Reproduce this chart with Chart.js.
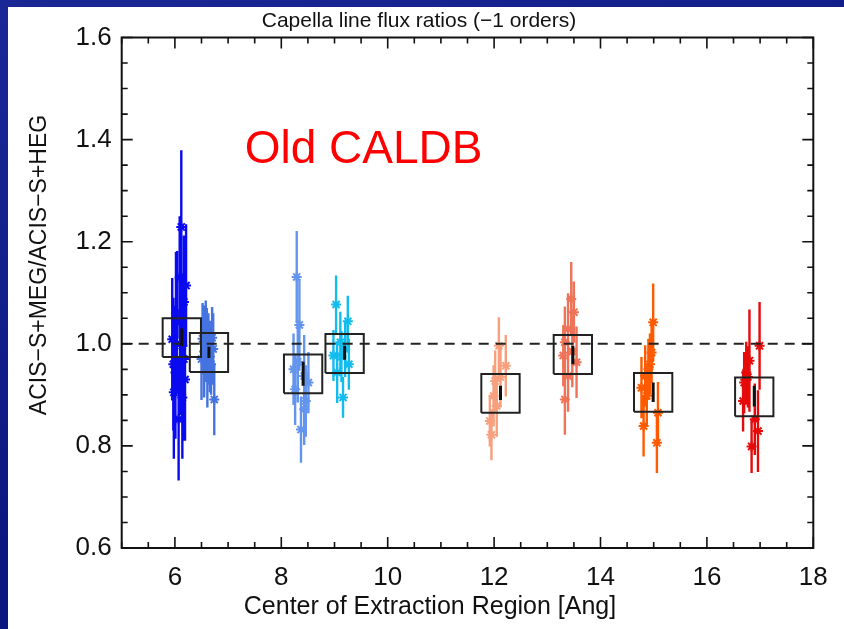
<!DOCTYPE html>
<html><head><meta charset="utf-8">
<script src="https://cdn.jsdelivr.net/npm/chart.js@4"></script>
<style>
html,body{margin:0;padding:0;}
body{width:844px;height:629px;background:linear-gradient(160deg,#1a2896 0%,#0c1680 60%,#0a1378 100%);overflow:hidden;position:relative;}
#paper{position:absolute;left:8px;top:7px;right:0;bottom:0;background:#fff;}
#wrap{position:absolute;left:0;top:0;width:844px;height:629px;}
</style></head><body>
<div id="paper"></div>
<div id="wrap"><canvas id="c" width="844" height="629"></canvas></div>
<script>
// ---- data ----
const xTickLabels = [6, 8, 10, 12, 14, 16, 18];
const yTickLabels = [0.6, 0.8, 1.0, 1.2, 1.4, 1.6];

const colors = ['#0a0af0', '#4573e0', '#6495ed', '#12bcee', '#f8a07e', '#ee7358', '#ff5a00', '#e60a0a'];

const x1 = [6.12, 6.21, 6.17, 6.04, 5.95, 6.14, 6.17, 6.01, 6.14, 6.07, 5.98, 6.10, 6.02, 5.97, 6.19, 6.09];
const y1 = [1.229, 1.114, 1.082, 1.042, 1.009, 0.996, 0.970, 0.944, 0.895, 0.852, 0.905, 1.000, 1.060, 0.960, 0.930, 1.130];
const e1 = [0.15, 0.12, 0.13, 0.14, 0.12, 0.14, 0.16, 0.13, 0.12, 0.12, 0.13, 0.14, 0.12, 0.13, 0.12, 0.12];

const x2 = [6.52, 6.58, 6.63, 6.70, 6.55, 6.66, 6.61, 6.74, 6.68, 6.60, 6.72, 6.50];
const y2 = [1.010, 1.005, 0.990, 1.012, 0.985, 0.975, 0.955, 0.891, 0.960, 1.000, 0.990, 0.970];
const e2 = [0.07, 0.08, 0.07, 0.06, 0.09, 0.07, 0.08, 0.07, 0.06, 0.07, 0.07, 0.08];

const x3 = [8.29, 8.34, 8.23, 8.43, 8.51, 8.26, 8.46, 8.43, 8.37, 8.31];
const y3 = [1.131, 1.037, 0.950, 0.937, 0.924, 0.911, 0.888, 0.872, 0.832, 0.965];
const e3 = [0.09, 0.09, 0.07, 0.08, 0.06, 0.07, 0.07, 0.07, 0.065, 0.08];

const x4 = [9.03, 9.25, 9.11, 9.20, 8.98, 9.27, 9.05, 9.16, 9.13];
const y4 = [1.077, 1.044, 1.003, 0.990, 0.977, 0.960, 0.944, 0.895, 0.975];
const e4 = [0.057, 0.05, 0.06, 0.055, 0.05, 0.05, 0.06, 0.04, 0.05];

const x5 = [12.09, 12.22, 12.02, 11.99, 12.05, 11.92, 11.95, 12.12];
const y5 = [0.996, 0.957, 0.927, 0.898, 0.878, 0.849, 0.822, 0.935];
const e5 = [0.056, 0.06, 0.06, 0.06, 0.06, 0.05, 0.05, 0.06];

const x6 = [13.45, 13.50, 13.39, 13.33, 13.30, 13.55, 13.39, 13.33, 13.47];
const y6 = [1.088, 1.062, 1.029, 1.003, 0.977, 0.964, 0.937, 0.891, 0.985];
const e6 = [0.072, 0.06, 0.07, 0.07, 0.06, 0.07, 0.07, 0.069, 0.07];

const x7 = [14.99, 14.96, 14.93, 14.84, 14.77, 14.87, 15.08, 14.81, 15.06, 14.90];
const y7 = [1.042, 0.983, 0.960, 0.937, 0.914, 0.898, 0.865, 0.839, 0.806, 0.950];
const e7 = [0.076, 0.06, 0.06, 0.06, 0.06, 0.06, 0.06, 0.06, 0.059, 0.06];

const x8 = [16.99, 16.80, 16.74, 16.70, 16.68, 16.90, 16.96, 16.84, 16.77];
const y8 = [0.996, 0.967, 0.944, 0.924, 0.888, 0.852, 0.829, 0.799, 0.935];
const e8 = [0.086, 0.10, 0.06, 0.06, 0.06, 0.07, 0.08, 0.052, 0.06];

// cluster means (boxes) and the error on the mean (black marks)
const boxX = [6.13, 6.64, 8.41, 9.19, 12.12, 13.48, 14.99, 16.89];
const boxY = [1.012, 0.983, 0.941, 0.981, 0.903, 0.979, 0.905, 0.896];
const markLo = [0.995, 0.972, 0.918, 0.969, 0.890, 0.960, 0.886, 0.877];
const markHi = [1.030, 0.994, 0.965, 0.996, 0.918, 0.996, 0.924, 0.918];

const refLevel = 1.0;
const xRange = [5, 18];
const yRange = [0.6, 1.6];

// ---- build datasets ----
const clusters = [[x1,y1,e1],[x2,y2,e2],[x3,y3,e3],[x4,y4,e4],[x5,y5,e5],[x6,y6,e6],[x7,y7,e7],[x8,y8,e8]];
const BOX_HW = 0.36, BOX_HH = 0.038;
const datasets = [];

const markData = [];
boxX.forEach((bx, i) => { markData.push({x: bx, y: markLo[i]}, {x: bx, y: markHi[i]}, {x: bx, y: null}); });
datasets.push({type: 'line', data: markData, borderColor: '#111', borderWidth: 3, pointRadius: 0, spanGaps: false, order: 0});

const boxData = [];
boxX.forEach((bx, i) => {
  const by = boxY[i];
  boxData.push({x: bx - BOX_HW, y: by - BOX_HH}, {x: bx + BOX_HW, y: by - BOX_HH},
               {x: bx + BOX_HW, y: by + BOX_HH}, {x: bx - BOX_HW, y: by + BOX_HH},
               {x: bx - BOX_HW, y: by - BOX_HH}, {x: bx, y: null});
});
datasets.push({type: 'line', data: boxData, borderColor: '#222', borderWidth: 2, pointRadius: 0, spanGaps: false, order: 1});

datasets.push({type: 'line', data: [{x: xRange[0], y: refLevel}, {x: xRange[1], y: refLevel}],
  borderColor: '#222', borderWidth: 2, borderDash: [10, 7], pointRadius: 0, order: 2});

clusters.forEach(([xs, ys, es], i) => {
  datasets.push({type: 'scatter', data: xs.map((x, k) => ({x, y: ys[k]})),
    pointStyle: 'star', pointRadius: 5, borderColor: colors[i], backgroundColor: colors[i], borderWidth: 2, order: 3});
  const bars = [];
  xs.forEach((x, k) => { bars.push({x, y: ys[k] - es[k]}, {x, y: ys[k] + es[k]}, {x, y: null}); });
  datasets.push({type: 'line', data: bars, borderColor: colors[i], borderWidth: 2.4, pointRadius: 0, spanGaps: false, order: 4});
});

// ---- decorations: frame, inward ticks, titles ----
const deco = {
  id: 'deco',
  afterDatasetsDraw(chart) {
    const {ctx, chartArea: a, scales: {x, y}} = chart;
    ctx.save();
    ctx.strokeStyle = '#111';
    ctx.lineWidth = 2;
    ctx.strokeRect(a.left, a.top, a.right - a.left, a.bottom - a.top);
    ctx.lineWidth = 1.6;
    ctx.beginPath();
    for (let k = 0; k <= 26; k++) {
      const v = xRange[0] + k * 0.5;
      const px = x.getPixelForValue(v);
      const len = (Math.abs(v / 2 - Math.round(v / 2)) < 1e-9) ? 11 : 6;
      ctx.moveTo(px, a.bottom); ctx.lineTo(px, a.bottom - len);
      ctx.moveTo(px, a.top); ctx.lineTo(px, a.top + len);
    }
    for (let k = 0; k <= 20; k++) {
      const v = yRange[0] + k * 0.05;
      const py = y.getPixelForValue(v);
      const len = (k % 4 === 0) ? 11 : 6;
      ctx.moveTo(a.left, py); ctx.lineTo(a.left + len, py);
      ctx.moveTo(a.right, py); ctx.lineTo(a.right - len, py);
    }
    ctx.stroke();

    ctx.fillStyle = '#111';
    ctx.textAlign = 'center';
    ctx.textBaseline = 'middle';
    ctx.font = '21px "Liberation Sans", Arial, sans-serif';
    ctx.fillText('Capella line flux ratios (\u22121 orders)', 419, 21);
    ctx.font = '25px "Liberation Sans", Arial, sans-serif';
    ctx.fillText('Center of Extraction Region [Ang]', 430, 607);
    ctx.save();
    ctx.translate(40, 265);
    ctx.rotate(-Math.PI / 2);
    ctx.font = '23px "Liberation Sans", Arial, sans-serif';
    ctx.fillText('ACIS\u2212S+MEG/ACIS\u2212S+HEG', 0, 0);
    ctx.restore();

    ctx.fillStyle = '#ff0000';
    ctx.textAlign = 'left';
    ctx.textBaseline = 'alphabetic';
    ctx.font = '46px "Liberation Sans", Arial, sans-serif';
    ctx.fillText('Old CALDB', a.left + 123, 163);
    ctx.restore();
  }
};

new Chart(document.getElementById('c'), {
  data: {datasets},
  options: {
    responsive: false,
    animation: false,
    layout: {padding: {top: 37.5, right: 30.7, left: 0, bottom: 0}},
    plugins: {legend: {display: false}, tooltip: {enabled: false}, title: {display: false}},
    scales: {
      x: {
        type: 'linear', min: xRange[0], max: xRange[1],
        grid: {display: false, drawTicks: false}, border: {display: false},
        afterBuildTicks: s => { s.ticks = xTickLabels.map(v => ({value: v})); },
        afterFit: s => { s.height = 81; },
        ticks: {color: '#111', font: {size: 26, family: '"Liberation Sans", Arial, sans-serif'},
                padding: 14, maxRotation: 0, autoSkip: false, callback: v => String(v)}
      },
      y: {
        type: 'linear', min: yRange[0], max: yRange[1],
        grid: {display: false, drawTicks: false}, border: {display: false},
        afterBuildTicks: s => { s.ticks = yTickLabels.map(v => ({value: v})); },
        afterFit: s => { s.width = 121.7; },
        ticks: {color: '#111', font: {size: 26, family: '"Liberation Sans", Arial, sans-serif'},
                padding: 10, autoSkip: false, callback: v => Number(v).toFixed(1)}
      }
    }
  },
  plugins: [deco]
});
</script>
</body></html>
